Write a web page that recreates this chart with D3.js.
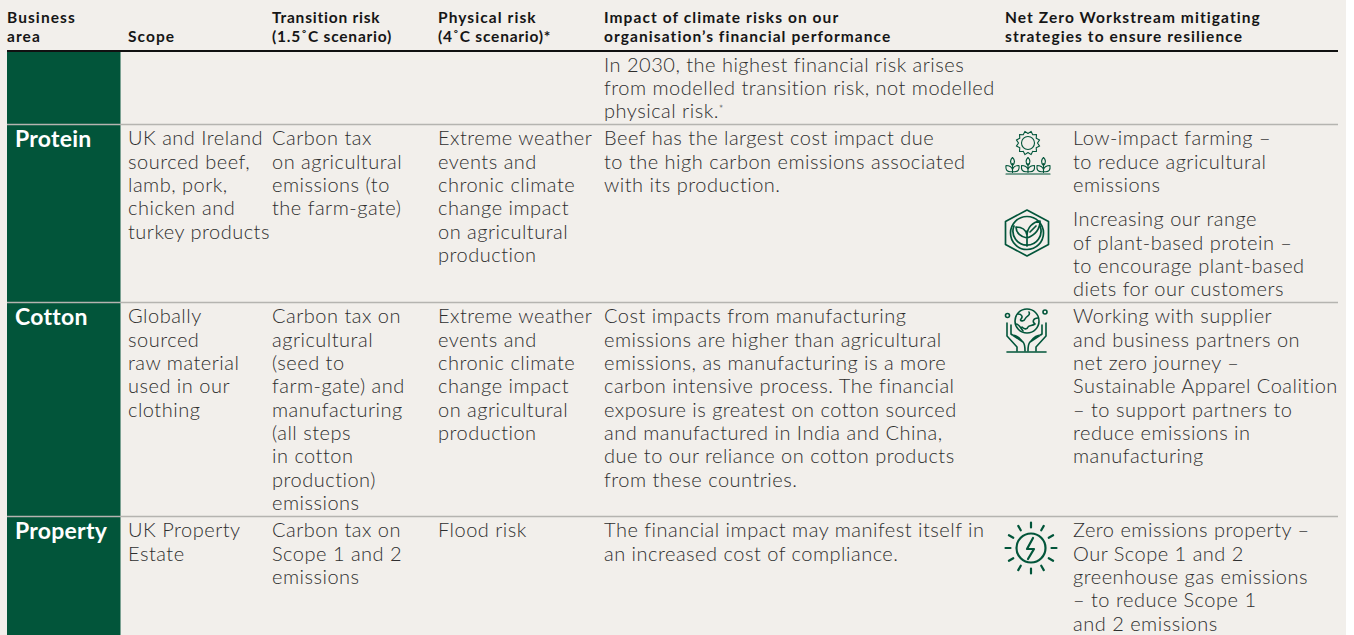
<!DOCTYPE html>
<html lang="en">

<head>
    <meta charset="UTF-8">
    <title>Climate risks table</title>
    <script src="https://d3js.org/d3.v7.min.js"></script>
    <style>
        html, body { margin: 0; padding: 0; background: #ffffff; overflow: hidden; }
        svg { display: block; }
        text { font-family: Lato, sans-serif; }
        .head { font-size: 15.5px; font-weight: 700; fill: #161616; letter-spacing: 1.08px; }
        .head.tight { letter-spacing: 0.78px; }
        .body { font-size: 20px; font-weight: 300; fill: #2e2e2e; letter-spacing: 0.5px; }
        .area { font-size: 23px; font-weight: 700; fill: #ffffff; letter-spacing: 0.25px; }
    </style>
</head>

<body>
    <svg id="table" width="1354" height="635"></svg>

    <script>
        // Table content
        var columns = ["area", "scope", "transition", "physical", "impact", "icon", "strategy"];
        var headers = [
            ["area", ["Business", "area"]],
            ["scope", ["", "Scope"]],
            ["transition", ["Transition risk", "(1.5˚C scenario)"]],
            ["physical", ["Physical risk", "(4˚C scenario)*"]],
            ["impact", ["Impact of climate risks on our", "organisation’s financial performance"]],
            ["icon", ["Net Zero Workstream mitigating", "strategies to ensure resilience"]]
        ];
        var rowNames = ["Intro", "Protein", "Cotton", "Property"];
        var areaLabels = ["", "Protein", "Cotton", "Property"];
        var scopeText = [
            [],
            ["UK and Ireland", "sourced beef,", "lamb, pork,", "chicken and", "turkey products"],
            ["Globally", "sourced", "raw material", "used in our", "clothing"],
            ["UK Property", "Estate"]
        ];
        var transitionText = [
            [],
            ["Carbon tax", "on agricultural", "emissions (to", "the farm-gate)"],
            ["Carbon tax on", "agricultural", "(seed to", "farm-gate) and", "manufacturing", "(all steps", "in cotton", "production)", "emissions"],
            ["Carbon tax on", "Scope 1 and 2", "emissions"]
        ];
        var physicalText = [
            [],
            ["Extreme weather", "events and", "chronic climate", "change impact", "on agricultural", "production"],
            ["Extreme weather", "events and", "chronic climate", "change impact", "on agricultural", "production"],
            ["Flood risk"]
        ];
        var impactText = [
            ["In 2030, the highest financial risk arises", "from modelled transition risk, not modelled", "physical risk.*"],
            ["Beef has the largest cost impact due", "to the high carbon emissions associated", "with its production."],
            ["Cost impacts from manufacturing", "emissions are higher than agricultural", "emissions, as manufacturing is a more", "carbon intensive process. The financial", "exposure is greatest on cotton sourced", "and manufactured in India and China,", "due to our reliance on cotton products", "from these countries."],
            ["The financial impact may manifest itself in", "an increased cost of compliance."]
        ];
        var strategyText = [
            [],
            ["Low-impact farming –", "to reduce agricultural", "emissions", null, "Increasing our range", "of plant-based protein –", "to encourage plant-based", "diets for our customers"],
            ["Working with supplier", "and business partners on", "net zero journey –", "Sustainable Apparel Coalition", "– to support partners to", "reduce emissions in", "manufacturing"],
            ["Zero emissions property –", "Our Scope 1 and 2", "greenhouse gas emissions", "– to reduce Scope 1", "and 2 emissions"]
        ];

        var svg = d3.select("#table");
        var green = "#02553a";
        var ruleEnd = 1338;

        // Layout scales
        var colX = d3.scaleOrdinal()
            .domain(columns)
            .range([7, 128, 272, 438, 604, 1005, 1073]);
        var rowTop = d3.scaleOrdinal()
            .domain(rowNames)
            .range([52, 125, 303, 517]);
        var lineStep = 23.35;

        // Page panel, green column and rules
        svg.append("rect")
            .attr("width", 1346).attr("height", 635)
            .attr("fill", "#f2efeb");

        svg.append("rect")
            .attr("x", colX("area")).attr("y", 50)
            .attr("width", 113.5).attr("height", 585)
            .attr("fill", green);

        svg.selectAll("line.row")
            .data(rowNames.slice(1))
            .join("line")
            .attr("class", "row")
            .attr("x1", colX("area")).attr("x2", ruleEnd)
            .attr("y1", function (d) { return rowTop(d) - 0.5; })
            .attr("y2", function (d) { return rowTop(d) - 0.5; })
            .attr("stroke", "#b5b4b0").attr("stroke-width", 1.4);

        svg.append("rect")
            .attr("x", colX("area")).attr("y", 50)
            .attr("width", ruleEnd - colX("area")).attr("height", 2)
            .attr("fill", "#111111");

        // Headers
        headers.forEach(function (h) {
            svg.append("g").selectAll("text")
                .data(h[1])
                .join("text")
                .attr("class", function (d) {
                    return d.indexOf("˚") >= 0 || d.indexOf("Transition") === 0 ? "head tight" : "head";
                })
                .attr("x", colX(h[0]))
                .attr("y", function (d, i) { return 23 + i * 19; })
                .text(function (d) { return d; });
        });

        // Body text, one array per column
        function drawColumn(name, rows) {
            rows.forEach(function (lines, r) {
                svg.append("g").selectAll("text")
                    .data(lines.filter(function (d) { return d !== null; }))
                    .join("text")
                    .attr("class", "body")
                    .attr("x", colX(name))
                    .attr("y", function (d, i) {
                        // strategy text has a gap between the two Protein blocks
                        var gap = lines.indexOf(null) >= 0 && i >= lines.indexOf(null) ? 11 : 0;
                        return rowTop(rowNames[r]) + 20.3 + i * lineStep + gap - (r === 0 ? 0.6 : 0);
                    })
                    .each(function (d) {
                        // the footnote mark is a small superscript
                        var t = d3.select(this), parts = d.split("*");
                        t.append("tspan").text(parts[0]);
                        if (parts.length > 1) {
                            t.append("tspan").attr("font-size", 11).attr("dy", -5).text("*");
                        }
                    });
            });
        }
        drawColumn("scope", scopeText);
        drawColumn("transition", transitionText);
        drawColumn("physical", physicalText);
        drawColumn("impact", impactText);
        drawColumn("strategy", strategyText);

        svg.append("g").selectAll("text")
            .data(areaLabels)
            .join("text")
            .attr("class", "area")
            .attr("x", 15)
            .attr("y", function (d, i) { return rowTop(rowNames[i]) + 22.4; })
            .text(function (d) { return d; });

        // Icons
        function iconGroup(x, y) {
            return svg.append("g")
                .attr("transform", "translate(" + x + "," + y + ")")
                .attr("fill", "none")
                .attr("stroke", green)
                .attr("stroke-width", 1.1)
                .attr("stroke-linecap", "round")
                .attr("stroke-linejoin", "round");
        }

        // sun and seedlings
        var farm = iconGroup(1028, 143);
        farm.append("circle").attr("r", 6.5);
        farm.append("path").attr("d", d3.range(12).map(function (i) {
            var a = i * Math.PI / 6, b = a + Math.PI / 12, c = a + Math.PI / 6;
            return "M" + 9.5 * Math.cos(a) + "," + 9.5 * Math.sin(a) +
                "L" + 12 * Math.cos(b) + "," + 12 * Math.sin(b) +
                "L" + 9.5 * Math.cos(c) + "," + 9.5 * Math.sin(c);
        }).join(""));
        farm.append("path").attr("d", "M-22,31H22");
        [-15.5, 0, 15.5].forEach(function (dx) {
            farm.append("path")
                .attr("transform", "translate(" + dx + ",29.5)")
                .attr("d", "M0,0V-9M0,-1C-6,0 -7,-3 -6.5,-7C-4,-7 -1,-6 0,-3C1,-6 4,-7 6.5,-7C7,-3 6,0 0,-1M0,-7C-3,-10 -2,-13 0,-15C2,-13 3,-10 0,-7");
        });

        // leaf in hexagon
        var leaf = iconGroup(1027, 233);
        leaf.attr("stroke-width", 1.7);
        leaf.append("path").attr("d", "M0,-23L21.5,-11.5V11.5L0,23L-21.5,11.5V-11.5Z");
        leaf.append("circle").attr("r", 16.5);
        leaf.append("path").attr("d", "M-13,-7A14,14 0 1 0 13,-7");
        leaf.append("path").attr("d", "M0,13V-2M0,5C-6,4 -11,0 -11,-6C-5,-6 -1,-3 0,2M0,3C0,-6 6,-11 13,-12C13,-4 8,2 0,5M3,-1L9,-7");

        // hands holding globe
        var hands = iconGroup(1027, 330);
        hands.attr("stroke-width", 1.6);
        hands.append("circle").attr("cy", -9).attr("r", 12);
        hands.append("path").attr("d", "M-9,-16C-5,-16 -4,-13 -6,-11C-8,-9 -3,-8 -2,-11C0,-15 4,-14 2,-18M11,-12C6,-12 5,-8 8,-6C5,-4 2,-5 1,-3C0,0 -3,-1 -5,-3M-11,-6C-8,-6 -7,-3 -4,1");
        hands.append("circle").attr("cx", -19.5).attr("cy", -14.5).attr("r", 2);
        hands.append("circle").attr("cx", 18).attr("cy", -18).attr("r", 2);
        hands.append("path").attr("d", "M-20,-7V6L-10,17V21M-16,-5V4L-4,12C-2,14 -2,17 -2,21M-15,5C-12,5 -8,7 -5,11");
        hands.append("path").attr("d", "M19,-7V6L9,17V21M15,-5V4L3,12C1,14 1,17 1,21M14,5C11,5 7,7 4,11");
        hands.append("path").attr("d", "M-20,22H19");

        // sun with bolt
        var bolt = iconGroup(1031, 548);
        bolt.attr("stroke-width", 2.2);
        bolt.append("circle").attr("r", 14.5);
        bolt.append("path").attr("d", "M2,-10L-4,1H3L-3,11");
        bolt.append("path").attr("d", d3.range(12).map(function (i) {
            var a = i * Math.PI / 6;
            return "M" + 20.5 * Math.cos(a) + "," + 20.5 * Math.sin(a) +
                "L" + 25.5 * Math.cos(a) + "," + 25.5 * Math.sin(a);
        }).join(""));
    </script>
</body>

</html>
